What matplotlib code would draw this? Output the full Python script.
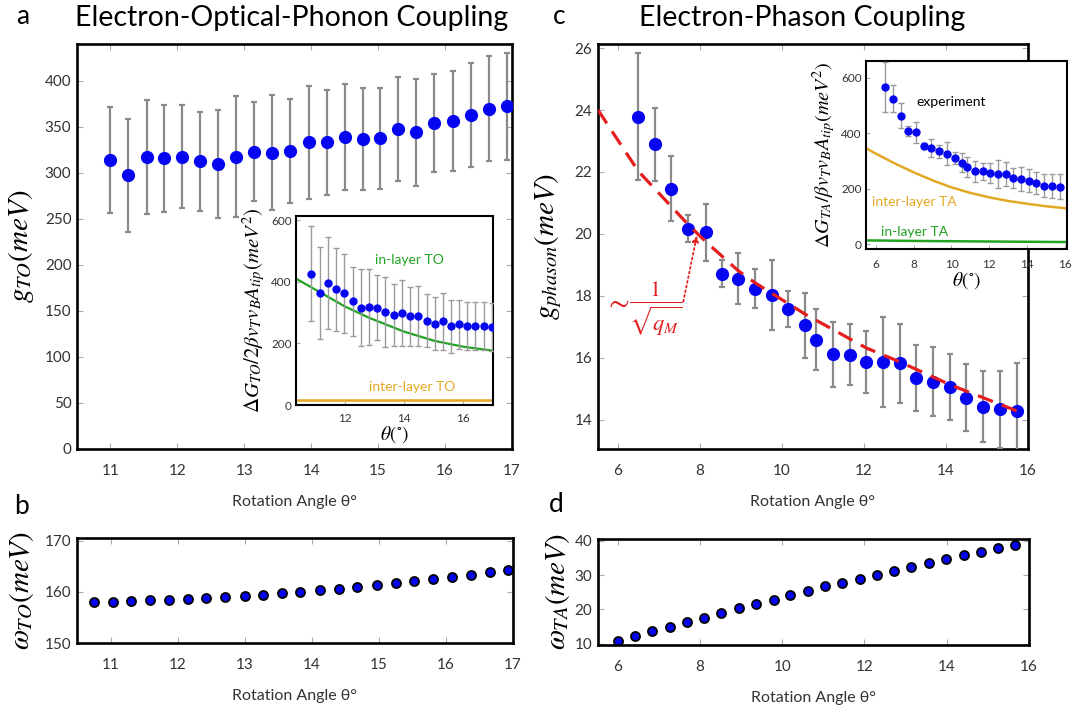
import matplotlib
matplotlib.use('Agg')
import matplotlib.pyplot as plt

plt.rcParams['font.family'] = ['Lato', 'DejaVu Sans']
plt.rcParams['mathtext.fontset'] = 'stix'

# ---------------- data ----------------
a_x = [11.00, 11.26, 11.54, 11.80, 12.07, 12.34, 12.61, 12.88, 13.15, 13.42, 13.69, 13.96,
       14.23, 14.50, 14.77, 15.03, 15.30, 15.57, 15.84, 16.12, 16.39, 16.66, 16.92]
a_g = [314.0, 297.2, 317.3, 315.8, 317.7, 312.5, 309.6, 317.3, 323.2, 322.1, 323.9, 333.0,
       333.0, 338.9, 336.7, 337.4, 347.7, 344.0, 354.3, 356.5, 363.0, 369.6, 372.2]
a_err = [57.6, 61.8, 61.5, 58.2, 56.3, 53.4, 58.2, 65.7, 54.3, 62.9, 56.5, 61.3,
         56.9, 57.3, 55.8, 54.5, 56.5, 58.4, 53.4, 54.2, 56.5, 56.9, 58.0]

ia_x = [10.88, 11.16, 11.44, 11.72, 11.99, 12.27, 12.54, 12.82, 13.09, 13.37, 13.65, 13.93,
        14.20, 14.48, 14.76, 15.03, 15.31, 15.57, 15.85, 16.13, 16.40, 16.68, 16.96]
ia_y = [426, 363, 396, 375, 362, 336, 316, 317, 316, 302, 293, 298,
        288, 288, 274, 264, 271, 255, 262, 256, 256, 257, 253]
ia_err = [155, 149, 150, 135, 127, 111, 124, 124, 105, 114, 101, 106,
          96, 97, 85, 85, 91, 85, 80, 79, 78, 78, 78]
ia_in_x = [10.36, 11.16, 12.0, 12.82, 14.0, 15.03, 16.0, 17.0]
ia_in_y = [410, 366, 320, 283, 238, 208, 189, 176]
ia_inter_x = [10.36, 17.0]
ia_inter_y = [15, 15]

b_x = [10.75, 11.03, 11.31, 11.59, 11.87, 12.15, 12.43, 12.71, 13.00, 13.28, 13.56, 13.83,
       14.12, 14.40, 14.68, 14.97, 15.25, 15.53, 15.81, 16.09, 16.38, 16.65, 16.93]
b_w = [158.0, 158.07, 158.2, 158.33, 158.47, 158.6, 158.73, 158.93, 159.13, 159.4, 159.73, 160.0,
       160.27, 160.53, 160.87, 161.27, 161.67, 162.07, 162.47, 162.87, 163.33, 163.8, 164.27]

c_x = [6.50, 6.91, 7.31, 7.72, 8.14, 8.53, 8.94, 9.34, 9.75, 10.16, 10.57, 10.84,
       11.25, 11.65, 12.06, 12.47, 12.88, 13.28, 13.69, 14.09, 14.50, 14.91, 15.32, 15.74]
c_g = [23.79, 22.89, 21.46, 20.17, 20.05, 18.72, 18.55, 18.23, 18.04, 17.59, 17.05, 16.59,
       16.11, 16.10, 15.87, 15.86, 15.82, 15.35, 15.23, 15.06, 14.72, 14.42, 14.34, 14.28]
c_err = [2.04, 1.19, 1.04, 0.43, 0.91, 0.43, 0.82, 0.63, 1.13, 0.58, 1.04, 0.98,
         1.04, 0.98, 1.0, 1.45, 1.27, 1.06, 1.12, 1.06, 1.08, 1.15, 1.25, 1.56]
c_fit_x = [5.52, 6.50, 7.72, 8.14, 8.94, 9.34, 10.57, 12.06, 12.88, 14.09, 15.86]
c_fit_y = [24.0, 22.03, 20.30, 19.76, 18.81, 18.43, 17.41, 16.32, 15.87, 15.14, 14.22]

ic_y = [566, 524, 463, 409, 404, 353, 347, 335, 326, 311, 294, 280,
        263, 263, 256, 252, 252, 239, 234, 229, 220, 211, 210, 208]
ic_err = [89, 49, 44, 18, 38, 11, 31, 23, 41, 21, 34, 36,
          38, 30, 36, 51, 43, 36, 43, 41, 39, 41, 42, 46]
ic_inter_x = [5.47, 6, 7, 8, 9, 10, 11, 12, 13, 14, 15, 16.12]
ic_inter_y = [346, 326, 291, 259, 230, 205, 185, 169, 156, 146, 137, 129]
ic_in_x = [5.47, 8, 10, 13, 16.12]
ic_in_y = [14, 12, 11, 9.5, 8]

d_x = [6.01, 6.42, 6.84, 7.26, 7.68, 8.10, 8.52, 8.95, 9.37, 9.79, 10.20, 10.62,
       11.04, 11.46, 11.88, 12.30, 12.72, 13.14, 13.56, 13.98, 14.41, 14.83, 15.25, 15.66]
d_w = [10.81, 12.22, 13.54, 14.95, 16.16, 17.58, 18.99, 20.30, 21.62, 22.83, 24.04, 25.25,
       26.67, 27.68, 28.89, 30.10, 31.31, 32.42, 33.54, 34.65, 35.76, 36.77, 37.88, 38.89]

# ---------------- style ----------------
BLUE = '#0505f0'
GRAY = '#8a8a8a'
RED = '#e41e1e'
GREEN = '#22a322'
ORANGE = '#e3a823'
TXT = '#333333'

W, H = 1075, 705
fig = plt.figure(figsize=(W / 100, H / 100), dpi=100)


def add_ax(l, t, r, b):
    return fig.add_axes([l / W, 1 - b / H, (r - l) / W, (b - t) / H])


def style(ax, lw=1.9, size=11, xpad=11, ypad=4, ticks_all=True):
    for s in ax.spines.values():
        s.set_linewidth(lw)
        s.set_color('black')
    ax.tick_params(axis='both', direction='in', length=4, width=0.8, color='#aaaaaa',
                   top=ticks_all, right=ticks_all, labelsize=size, labelcolor=TXT)
    ax.tick_params(axis='x', pad=xpad)
    ax.tick_params(axis='y', pad=ypad)


# ---------------- panel a ----------------
axa = add_ax(77, 44, 512, 449)
axa.errorbar(a_x, a_g, yerr=a_err, fmt='o', color=BLUE, ms=8.5, ecolor=GRAY,
             elinewidth=1.6, capsize=2.5, capthick=1.6, zorder=3)
axa.set_xlim(10.5, 17.0)
axa.set_ylim(0, 440)
axa.set_yticks(range(0, 401, 50))
axa.set_xticks(range(11, 18))
style(axa)
axa.set_ylabel(r'$g_{TO}(meV)$', fontsize=21, labelpad=6)
axa.set_xlabel('Rotation Angle θ°', fontsize=11.5, color=TXT, labelpad=12)

# inset a
ia = add_ax(296, 216, 493, 405)
ia.errorbar(ia_x, ia_y, yerr=ia_err, fmt='o', color=BLUE, ms=5, ecolor='#9a9a9a',
            elinewidth=1.0, capsize=2.2, capthick=1.0, zorder=3)
ia.plot(ia_in_x, ia_in_y, color=GREEN, lw=1.6, zorder=2)
ia.plot(ia_inter_x, ia_inter_y, color=ORANGE, lw=1.8, zorder=2)
ia.set_xlim(10.36, 17.0)
ia.set_ylim(0, 613)
ia.set_yticks([0, 200, 400, 600])
ia.set_xticks([12, 14, 16])
style(ia, lw=1.5, size=8.5, xpad=6, ypad=3, ticks_all=False)
ia.tick_params(length=3)
ia.text(14.17, 469, 'in-layer TO', color=GREEN, fontsize=10, ha='center', va='center')
ia.text(14.26, 59, 'inter-layer TO', color=ORANGE, fontsize=10, ha='center', va='center')
ia.set_ylabel(r'$\Delta G_{TO}/2\beta v_T v_B A_{tip}(meV^2)$', fontsize=15, labelpad=2)
ia.set_xlabel(r'$\theta(^{\circ})$', fontsize=14, labelpad=0)

# ---------------- panel b ----------------
axb = add_ax(77, 538, 513, 643)
axb.plot(b_x, b_w, 'o', color=BLUE, ms=6.5, mec='black', mew=1.3)
axb.set_xlim(10.5, 17.0)
axb.set_ylim(150.4, 170.5)
axb.set_yticks([150, 160, 170])
axb.set_xticks(range(11, 18))
style(axb)
axb.set_ylabel(r'$\omega_{TO}(meV)$', fontsize=21, labelpad=6)
axb.set_xlabel('Rotation Angle θ°', fontsize=11.5, color=TXT, labelpad=12)

# ---------------- panel c ----------------
axc = add_ax(598, 44, 1028, 449)
axc.errorbar(c_x, c_g, yerr=c_err, fmt='o', color=BLUE, ms=8.5, ecolor=GRAY,
             elinewidth=1.6, capsize=2.5, capthick=1.6, zorder=3)
axc.plot(c_fit_x, c_fit_y, color=RED, lw=2.3, dashes=(5, 3), zorder=4)
axc.set_xlim(5.52, 16.0)
axc.set_ylim(13.06, 26.13)
axc.set_yticks(range(14, 27, 2))
axc.set_xticks(range(6, 17, 2))
style(axc)
axc.set_ylabel(r'$g_{phason}(meV)$', fontsize=21, labelpad=8)
axc.set_xlabel('Rotation Angle θ°', fontsize=11.5, color=TXT, labelpad=12)
axc.text(5.97, 17.82, r'$\sim$', color=RED, fontsize=22, ha='center', va='center')
axc.text(6.92, 17.62, r'$\frac{1}{\sqrt{q_M}}$', color=RED, fontsize=23, ha='center', va='center')
axc.annotate('', xy=(7.93, 19.95), xytext=(7.6, 17.82),
             arrowprops=dict(arrowstyle='-|>', color=RED, lw=1.3, linestyle=':',
                             mutation_scale=9, shrinkA=0, shrinkB=0), zorder=5)

# inset c
ic = add_ax(866, 61, 1067, 249)
ic.errorbar(c_x, ic_y, yerr=ic_err, fmt='o', color=BLUE, ms=5, ecolor='#9a9a9a',
            elinewidth=1.0, capsize=2.2, capthick=1.0, zorder=3)
ic.plot(ic_inter_x, ic_inter_y, color=ORANGE, lw=1.8, zorder=2)
ic.plot(ic_in_x, ic_in_y, color=GREEN, lw=1.8, zorder=2)
ic.set_xlim(5.47, 16.12)
ic.set_ylim(-17, 660)
ic.set_yticks([0, 200, 400, 600])
ic.set_xticks(range(6, 17, 2))
style(ic, lw=1.5, size=8.5, xpad=7, ypad=3, ticks_all=False)
ic.tick_params(length=3)
ic.text(9.98, 511, 'experiment', color='black', fontsize=10, ha='center', va='center')
ic.text(8.03, 154, 'inter-layer TA', color=ORANGE, fontsize=10, ha='center', va='center')
ic.text(8.03, 46, 'in-layer TA', color=GREEN, fontsize=10, ha='center', va='center')
ic.set_ylabel(r'$\Delta G_{TA}/\beta v_T v_B A_{tip}(meV^2)$', fontsize=14.5, labelpad=2)
ic.set_xlabel(r'$\theta(^{\circ})$', fontsize=14, labelpad=0)

# ---------------- panel d ----------------
axd = add_ax(598, 539, 1029, 645)
axd.plot(d_x, d_w, 'o', color=BLUE, ms=6.5, mec='black', mew=1.3)
axd.set_xlim(5.52, 16.0)
axd.set_ylim(9.6, 40.5)
axd.set_yticks([10, 20, 30, 40])
axd.set_xticks(range(6, 17, 2))
style(axd)
axd.set_ylabel(r'$\omega_{TA}(meV)$', fontsize=21, labelpad=2)
axd.set_xlabel('Rotation Angle θ°', fontsize=11.5, color=TXT, labelpad=12)

# ---------------- titles and panel letters ----------------
fig.text(292 / W, 1 - 18 / H, 'Electron-Optical-Phonon Coupling', fontsize=20.5,
         ha='center', va='center')
fig.text(802 / W, 1 - 18 / H, 'Electron-Phason Coupling', fontsize=20.5,
         ha='center', va='center')
for lab, (px, py) in {'a': (23, 16), 'c': (559, 16), 'b': (22, 507), 'd': (556, 504)}.items():
    fig.text(px / W, 1 - py / H, lab, fontsize=19, ha='center', va='center')

fig.savefig('out.png', dpi=100)
